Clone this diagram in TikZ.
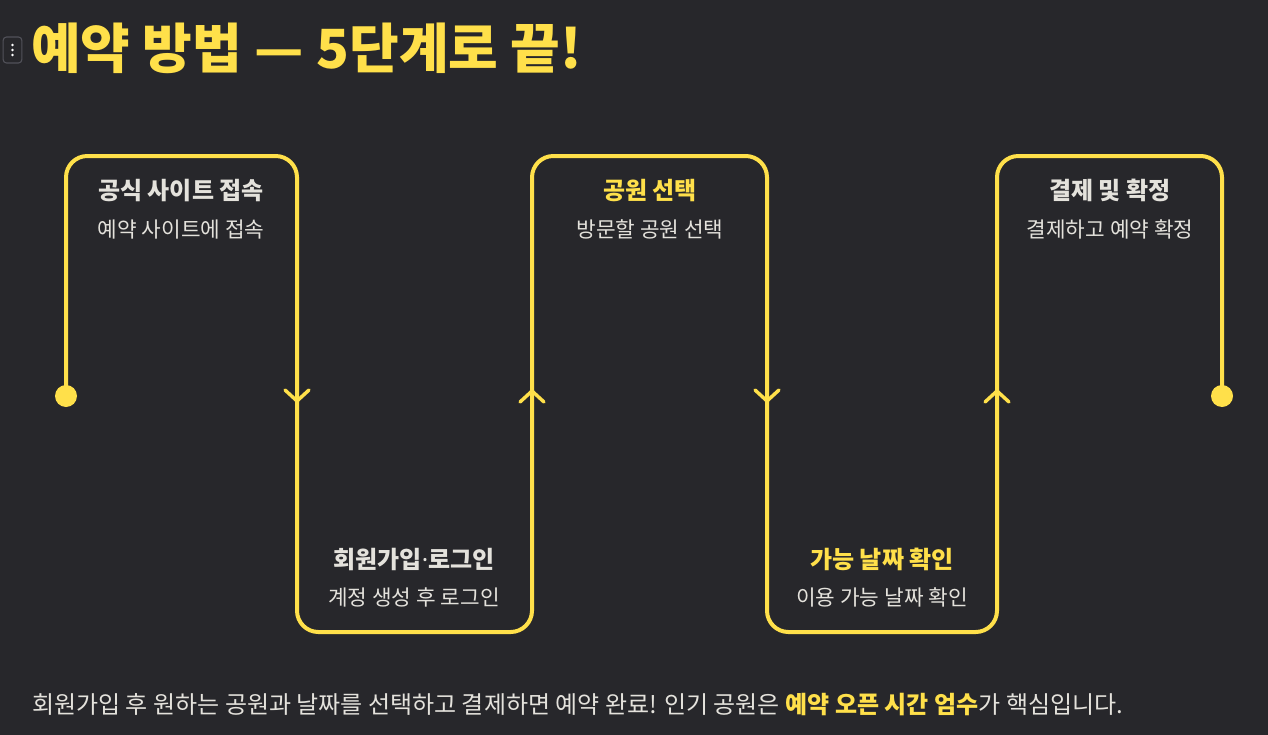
\documentclass[tikz,border=0pt]{standalone}
\usepackage{fontspec}
\setmainfont{Noto Sans CJK KR}
\newfontfamily\latinfont{Noto Sans}
\usepackage{tikz}
\usetikzlibrary{positioning,arrows.meta,calc}
\definecolor{bgdark}{HTML}{27272B}
\definecolor{routeyellow}{HTML}{FFE04A}
\definecolor{labelgray}{HTML}{E4E2DC}
\definecolor{btngray}{HTML}{52525A}

\begin{document}
\begin{tikzpicture}[x=0.75pt, y=-0.75pt,
    route/.style={line width=3pt, color=routeyellow, rounded corners=16pt},
    chev/.style={line width=2.6pt, color=routeyellow, line cap=round, line join=round},
    dot/.style={circle, fill=routeyellow, minimum size=16.5pt, inner sep=0pt},
    steptitle/.style={font=\bfseries\fontsize{18}{21}\selectfont, text=#1, anchor=base, inner sep=0pt},
    stepdesc/.style={font=\fontsize{16}{19}\selectfont, text=labelgray, anchor=base, inner sep=0pt},
]
\useasboundingbox (0,0) rectangle (1268,735);
\fill[bgdark] (0,0) rectangle (1268,735);

% menu button and heading
\node[draw=btngray, rounded corners=2.5pt, line width=0.8pt, minimum width=14pt, minimum height=19.5pt, inner sep=0pt] (menubtn) at (12.5,50) {};
\foreach \dy in {-5,0,5}
    \fill[white] ($(menubtn)+(0,\dy)$) circle (1.1pt);
\node[anchor=base west, inner sep=0pt, text=routeyellow, font=\bfseries\fontsize{40.5}{46}\selectfont] (heading) at (31,69) {예약 방법 — 5단계로 끝!};

% route
\node[dot] (start) at (66,396) {};
\node[dot] (finish) at (1222,396) {};
\coordinate (t1) at (297,156);
\coordinate (b1) at (532,632);
\coordinate (t2) at (767,156);
\coordinate (b2) at (997,632);
\coordinate (t3) at (1222,156);
\draw[route] (start.center) |- (t1) |- (b1) |- (t2) |- (b2) |- (t3) -- (finish.center);

\coordinate (a1) at (297,401);
\coordinate (a2) at (532,391);
\coordinate (a3) at (767,401);
\coordinate (a4) at (997,391);
\draw[chev] (a1) ++(-12,-11) -- (a1) -- ++(12,-11);
\draw[chev] (a2) ++(-12,11) -- (a2) -- ++(12,11);
\draw[chev] (a3) ++(-12,-11) -- (a3) -- ++(12,-11);
\draw[chev] (a4) ++(-12,11) -- (a4) -- ++(12,11);

% steps
\node[steptitle=labelgray] (s1t) at (181,199) {공식 사이트 접속};
\node[stepdesc] (s1d) at (181,237) {예약 사이트에 접속};
\node[steptitle=labelgray] (s2t) at (414,568) {회원가입{\latinfont ·}로그인};
\node[stepdesc] (s2d) at (414,605) {계정 생성 후 로그인};
\node[steptitle=routeyellow] (s3t) at (650,199) {공원 선택};
\node[stepdesc] (s3d) at (650,237) {방문할 공원 선택};
\node[steptitle=routeyellow] (s4t) at (882,568) {가능 날짜 확인};
\node[stepdesc] (s4d) at (882,605) {이용 가능 날짜 확인};
\node[steptitle=labelgray] (s5t) at (1110,199) {결제 및 확정};
\node[stepdesc] (s5d) at (1110,237) {결제하고 예약 확정};

% footnote
\node[anchor=base west, inner sep=0pt, text=labelgray, font=\fontsize{18}{21}\selectfont] (summary) at (32,713)
    {회원가입 후 원하는 공원과 날짜를 선택하고 결제하면 예약 완료! 인기 공원은 {\bfseries\color{routeyellow}예약 오픈 시간 엄수}가 핵심입니다.};

\end{tikzpicture}
\end{document}
